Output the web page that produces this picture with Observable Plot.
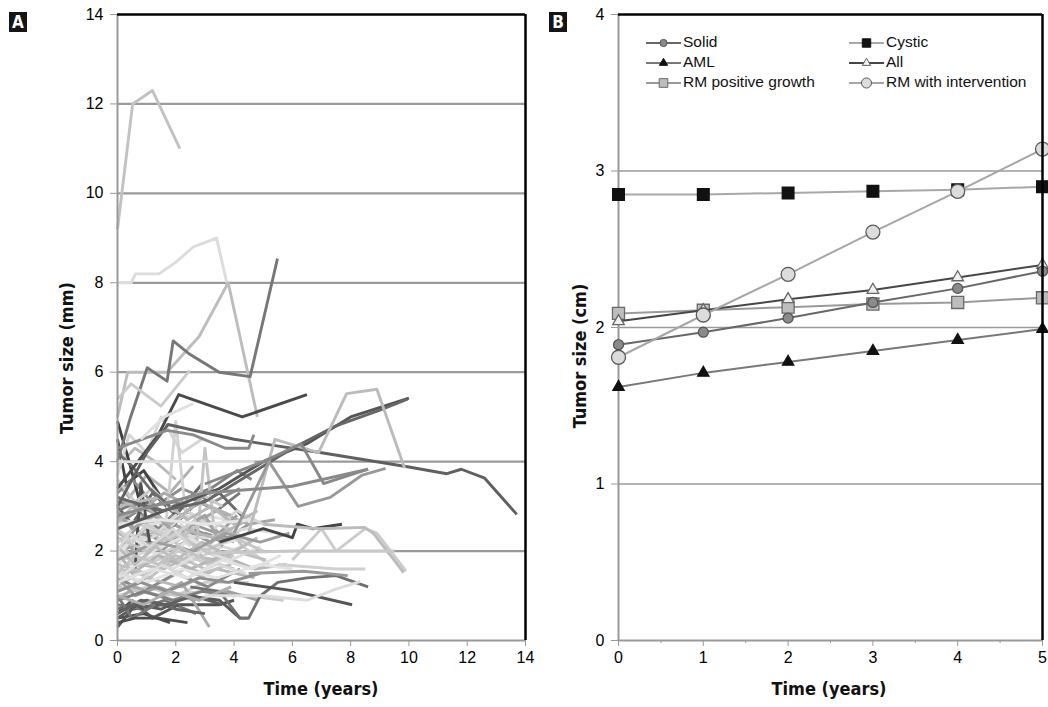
<!DOCTYPE html>
<html><head><meta charset="utf-8">
<script src="https://cdn.jsdelivr.net/npm/d3@7"></script>
<script src="https://cdn.jsdelivr.net/npm/@observablehq/plot@0.6"></script>
<style>
body{margin:0;background:#fff;}
#wrap{position:relative;width:1048px;height:707px;overflow:hidden;background:#fff;}
.panel{position:absolute;top:0;}
.tag{position:absolute;background:#151515;color:#fff;font:bold 17px "Liberation Sans Narrow","DejaVu Sans Condensed",sans-serif;width:18px;height:20px;line-height:21px;text-align:center;}
#overlay{position:absolute;left:0;top:0;pointer-events:none;}
</style></head><body><div id="wrap"></div>
<script>
// ---------------- DATA ----------------
// Panel A: individual tumour trajectories, flat [time, size, time, size, ...] (years, mm)
const clusterTrajectories = [
  [0,2.0, 1,2.2, 2,2.1, 3,2.4, 4,2.2],
  [0,1.5, 0.8,1.7, 1.6,1.6, 2.5,1.9, 3.4,1.8],
  [0,0.5, 0.9,0.6, 1.8,0.4],
  [0,0.3, 0.5,0.7, 1.5,0.8, 2.5,0.8, 3.5,0.8, 4.0,0.9],
  [0,1.0, 1,1.2, 2,1.0, 3,1.3, 4.5,1.3],
  [0,2.6, 0.7,2.9, 1.4,2.5, 2.2,3.0, 3.0,2.6],
  [0,3.0, 0.5,2.6, 1.2,3.3, 2.0,2.8, 2.9,3.5],
  [0,1.8, 1.1,2.0, 2.3,1.7, 3.6,2.1, 4.8,1.9],
  [0,2.3, 0.6,2.0, 1.3,2.7, 2.1,2.3, 2.8,2.8, 3.5,2.4],
  [0,1.2, 0.7,1.5, 1.5,1.3, 2.3,1.6, 3.0,1.4],
  [0,0.8, 0.8,0.7, 1.6,0.9, 2.7,0.6],
  [0,3.5, 0.4,3.2, 1.0,3.7, 1.8,3.3, 2.6,3.9],
  [0,1.9, 0.6,2.5, 1.5,2.0, 2.6,2.6, 3.8,2.3, 4.5,2.6],
  [0,2.7, 1.2,2.6, 2.6,2.8, 4.0,2.7],
  [0,1.4, 0.9,1.1, 2.0,1.5, 3.1,1.2, 4.2,1.6],
  [0,0.6, 0.5,0.9, 1.2,0.5, 2.1,0.8],
  [0,2.1, 0.8,1.8, 1.7,2.3, 2.7,1.9, 3.8,2.5, 4.6,2.2],
  [0,3.9, 0.6,4.3, 1.3,4.0, 2.0,3.6],
  [0,4.5, 0.3,3.5, 0.9,3.8, 1.5,3.2],
  [0,4.9, 0.4,4.0, 0.8,3.0, 1.4,2.8],
  [0,1.6, 1.3,1.9, 2.4,2.2, 3.3,1.9, 4.3,2.1, 5.2,1.7],
  [0,2.4, 0.9,2.3, 1.9,2.6, 3.2,2.2, 4.1,2.8],
  [0,1.1, 1.0,1.4, 2.2,1.2, 3.4,1.6, 4.7,1.4],
  [0,0.9, 0.6,1.2, 1.4,1.0, 2.2,1.3, 3.15,0.3],
  [0,2.9, 0.7,3.1, 1.6,2.9, 2.5,3.2, 3.4,2.9, 4.2,3.3],
  [0,2.2, 1.5,2.4, 3,2.3, 4.4,2.5, 5.5,2.4],
  [0,1.3, 0.5,1.6, 1.1,1.4, 1.9,1.8, 2.9,1.5, 3.9,1.7],
  [0,0.7, 1.0,0.9, 2.0,0.7, 3.0,0.6],
  [0,1.7, 0.8,2.1, 1.7,1.8, 2.5,2.3, 3.3,2.0],
  [0,3.3, 0.5,3.6, 1.3,3.0, 2.2,3.4, 3.3,3.1, 4.2,3.4],
  [0,2.5, 1.2,2.8, 2.3,2.5, 3.4,2.9, 4.5,2.6, 5.4,2.7],
  [0,1.9, 1.0,1.7, 2.1,2.0, 3.1,1.7, 4.0,1.9],
  [0,0.5, 0.7,0.8, 1.5,0.7, 2.4,1.0, 3.5,0.9, 4.2,0.5, 4.5,0.5],
  [0,1.0, 0.5,0.5, 1.3,0.8],
  [0,3.7, 0.4,4.6, 1.0,4.2, 1.5,5.0, 2.2,4.2, 2.9,4.5],
  [0,2.0, 0.5,1.5, 1.4,1.9, 2.5,1.6, 3.6,1.9, 4.7,1.6, 5.8,1.7],
  [0,1.5, 1.0,1.3, 2.2,1.6, 3.4,1.4, 4.9,1.7, 6.0,1.6],
  [0,2.8, 0.8,2.4, 1.7,2.2, 2.6,2.5, 3.6,2.2],
  [0,0.4, 0.6,0.5, 1.4,0.5, 2.4,0.4],
  [0,1.2, 1.5,1.0, 3.0,1.1, 4.5,1.0, 5.7,0.9],
  [1.0,3.1, 1.8,2.5, 2.6,3.0, 3.5,3.3, 4.4,2.7],
  [0,2.6, 0.5,3.0, 1.5,2.2, 2.3,2.4, 3.0,1.8, 4.0,1.6],
  [0,1.8, 0.4,2.2, 1.2,2.3, 2.0,2.8, 2.6,2.2],
  [0,3.1, 1.0,3.0, 2.0,3.1, 3.2,3.4, 4.1,3.8, 4.6,3.6],
  [0,2.0, 1.0,2.5, 2.0,2.2, 3.0,2.7, 3.8,2.5, 4.3,2.1],
  [0.6,1.6, 0.8,3.5, 1.1,2.2],
  [1.6,2.2, 2.0,4.9, 2.4,2.5],
  [2.7,2.0, 3.0,4.3, 3.3,2.6],
  [0,1.4, 0.6,1.0, 1.4,1.2, 2.6,0.9, 3.8,1.1, 4.8,0.9],
  [2.5,1.2, 3.5,1.1, 4.2,0.5, 4.5,0.5, 4.9,1.0, 5.5,1.3, 6.5,1.4, 7.5,1.45, 8.6,1.2],
  [0,2.2, 0.7,2.6, 1.6,2.4, 2.4,2.9, 3.3,2.5, 4.1,2.9, 5.0,2.6],
  [0,1.7, 1.0,1.5, 2.0,1.9, 3.0,1.6, 4.0,2.0, 5.1,1.8],
  [0,2.9, 0.5,2.5, 1.3,2.8, 2.0,2.4, 3.0,2.8, 3.6,2.1],
  [0,1.4, 0.9,1.8, 1.9,1.6, 2.9,2.0, 3.9,1.8, 4.9,2.1],
  [0,2.4, 1.1,2.1, 2.2,2.5, 3.3,2.3, 4.5,2.7],
  [0,1.1, 0.8,1.3, 1.7,1.1, 2.8,1.4, 3.8,1.3, 4.9,1.5],
  [0,3.6, 0.6,3.1, 1.2,3.4, 1.9,2.9, 2.8,3.3, 3.6,3.0],
  [0,1.9, 0.5,2.3, 1.2,2.0, 2.2,2.3, 3.2,2.1, 4.4,2.3],
  [0,2.7, 0.9,3.0, 1.8,2.6, 2.8,3.1, 3.9,2.8],
  [0,0.9, 0.9,1.1, 1.9,0.9, 2.9,1.1, 4.0,1.0],
  [0,1.6, 0.7,1.3, 1.5,1.7, 2.4,1.4, 3.4,1.7, 4.4,1.5],
  [0,2.3, 1.0,2.0, 2.0,2.4, 3.0,2.0, 4.0,2.3, 5.0,2.0],
  [0,3.2, 0.8,2.9, 1.6,3.3, 2.5,3.0, 3.3,3.4],
  [0,1.3, 1.2,1.6, 2.4,1.4, 3.6,1.8, 4.6,1.6, 5.6,1.9],
  [0,2.1, 0.6,1.7, 1.3,2.1, 2.0,1.8, 2.9,2.2, 3.8,1.9, 4.8,2.3],
  [0,2.5, 0.5,2.2, 1.0,2.6, 1.8,2.3, 2.7,2.7],
  [0,1.8, 1.3,2.2, 2.6,2.0, 3.7,2.4, 4.9,2.2, 5.9,2.4],
  [0,0.6, 0.8,0.9, 1.7,0.8, 2.6,1.0, 3.6,0.8],
  [0,2.0, 0.4,2.4, 1.1,2.1, 1.9,2.5, 2.5,2.1],
  [0,3.0, 1.4,3.2, 2.4,2.7, 3.2,3.0, 4.0,2.6, 4.8,2.9],
  [0,1.5, 0.6,1.9, 1.4,1.7, 2.1,2.1, 3.0,1.8],
  [0,4.2, 0.5,3.9, 1.1,3.4, 1.8,3.0],
  [0,2.6, 1.5,2.7, 3.0,2.6, 4.6,2.7],
  [0,1.0, 0.9,0.8, 1.8,1.1, 2.8,0.9, 3.9,1.2]
];
const prominentTrajectories = [
  [0,9.2, 0.52,12.0, 1.2,12.3, 2.14,11.0],
  [0,8.0, 0.47,8.0, 0.62,8.2, 1.42,8.2, 1.98,8.45, 2.6,8.8, 3.4,9.0, 3.75,8.0],
  [0,5.0, 0.35,6.0, 1.7,6.0, 2.8,6.8, 3.8,8.0, 4.8,5.0],
  [0,4.0, 0.45,5.0, 1.02,6.1, 1.7,5.8, 1.91,6.7, 2.48,6.4, 3.49,6.0, 4.55,5.9, 5.49,8.54],
  [0,3.4, 1.4,4.6, 2.1,5.5, 4.28,5.0, 6.5,5.5],
  [0,3.0, 1.0,4.2, 1.73,4.83, 4.0,4.5, 7.0,4.2, 10,3.88, 11.3,3.73, 11.8,3.83, 12.6,3.63, 13.7,2.82],
  [0,2.5, 2,3.0, 3.5,3.4, 5,4.0, 6.5,4.4, 8,5.0, 10,5.42],
  [0,3.2, 1.5,2.9, 3,3.1, 4.5,3.7, 6,4.3, 7.5,4.8, 9,5.15, 9.95,5.4],
  [4.5,2.4, 5.4,4.5, 6.9,4.2, 7.86,5.52, 8.9,5.62, 9.85,3.86],
  [4.0,2.4, 5.2,4.0, 6.2,3.0, 7.3,3.2, 8.4,3.7, 9.2,3.85],
  [3,3.5, 5,4.0, 6.3,4.4, 7.07,3.51, 8.6,3.83],
  [0,2.8, 3,3.3, 6,3.45, 8.6,3.83],
  [3.5,2.2, 5.0,2.5, 6.0,2.3, 6.17,2.6, 6.7,2.5, 7.7,2.6],
  [6,1.8, 7,2.5, 7.5,2.0, 8.5,2.5, 8.9,2.4, 9.9,1.55],
  [5,2.6, 6.9,2.5, 8.48,2.53, 8.79,2.39, 9.82,1.52],
  [4.0,1.3, 5.94,1.12, 8.05,0.8],
  [3.0,1.0, 5.0,1.0, 6.5,0.9, 7.5,1.15, 8.34,1.32],
  [3,1.95, 6,2.0, 9.5,2.0],
  [5.5,1.7, 7.5,1.6, 8.5,1.6],
  [4.5,1.5, 6.4,1.55, 7.9,1.45],
  [0,4.3, 1.7,4.7, 2.6,4.6, 3.7,4.3, 4.5,4.3, 4.68,4.6],
  [0,5.4, 0.47,5.74, 1.49,5.24, 2.48,6.04],
  [0.8,4.5, 1.6,5.0, 2.6,5.3],
  [0,4.0, 1.5,4.0, 3.0,4.0, 4.7,4.0]
];
const xTicksA = [0, 2, 4, 6, 8, 10, 12, 14];
const yTicksA = [0, 2, 4, 6, 8, 10, 12, 14];

// Panel B: mean growth curves (years, cm)
const years = [0, 1, 2, 3, 4, 5];
const seriesNames = ["Solid", "Cystic", "AML", "All", "RM positive growth", "RM with intervention"];
const solid = [1.89, 1.97, 2.06, 2.16, 2.25, 2.36];
const cystic = [2.85, 2.85, 2.86, 2.87, 2.88, 2.90];
const aml = [1.62, 1.71, 1.78, 1.85, 1.92, 1.99];
const allTumors = [2.04, 2.11, 2.18, 2.24, 2.32, 2.40];
const rmPositive = [2.09, 2.11, 2.13, 2.15, 2.16, 2.19];
const rmIntervention = [1.81, 2.08, 2.34, 2.61, 2.87, 3.14];
const xTicksB = [0, 1, 2, 3, 4, 5];
const xMinorB = [0.5, 1.5, 2.5, 3.5, 4.5];
const yTicksB = [0, 1, 2, 3, 4];

// ---------------- STYLE ----------------
const tickFont = '"Liberation Sans", Arial, Helvetica, sans-serif';
const boldFont = '"Liberation Sans Narrow", "DejaVu Sans Condensed", "Liberation Sans", sans-serif';
const clusterShades = ["#9a9a9a","#bdbdbd","#4a4a4a","#555","#cfcfcf","#8a8a8a","#666","#d8d8d8","#a8a8a8","#c5c5c5",
  "#777","#b0b0b0","#999","#e0e0e0","#888","#555","#c9c9c9","#bbb","#444","#3f3f3f",
  "#d0d0d0","#9c9c9c","#b8b8b8","#aaa","#7a7a7a","#dadada","#c0c0c0","#666","#e2e2e2","#8c8c8c",
  "#a5a5a5","#cdcdcd","#5a5a5a","#777","#d6d6d6","#b5b5b5","#e4e4e4","#909090","#4d4d4d","#c8c8c8",
  "#6a6a6a","#bdbdbd","#dcdcdc","#858585","#c2c2c2","#505050","#d2d2d2","#c4c4c4","#a0a0a0","#707070",
  "#d4d4d4","#c0c0c0","#a3a3a3","#dedede","#b7b7b7","#8f8f8f","#cacaca","#e3e3e3","#b2b2b2","#7f7f7f",
  "#d9d9d9","#c6c6c6","#a9a9a9","#e1e1e1","#bcbcbc","#cfcfcf","#9e9e9e","#606060","#d7d7d7","#b9b9b9",
  "#c3c3c3","#6e6e6e","#e5e5e5","#aeaeae"];
const prominentShades = ["#c2c2c2","#dcdcdc","#bdbdbd","#777","#4a4a4a","#606060","#555","#666",
  "#bbb","#999","#888","#8a8a8a","#444","#ccc","#bbb","#555","#ddd","#c8c8c8","#d0d0d0","#999",
  "#8a8a8a","#ccc","#e0e0e0","#dedede"];

const seriesStyle = {
  "Solid":                {line:"#686868", symbol:"circle",   fill:"#8a8a8a", stroke:"#555", r:5.0},
  "Cystic":               {line:"#a8a8a8", symbol:"square",   fill:"#111",    stroke:"#111", r:6.6},
  "AML":                  {line:"#787878", symbol:"triangle", fill:"#111",    stroke:"#111", r:4.2},
  "All":                  {line:"#474747", symbol:"triangle", fill:"#f0f0f0", stroke:"#666", r:4.3},
  "RM positive growth":   {line:"#9a9a9a", symbol:"square",   fill:"#bdbdbd", stroke:"#6a6a6a", r:6.8},
  "RM with intervention": {line:"#a6a6a6", symbol:"circle",   fill:"#dcdcdc", stroke:"#5a5a5a", r:7.0}
};
const drawOrder = ["Cystic", "RM positive growth", "All", "Solid", "AML", "RM with intervention"];

// ---------------- BUILD ----------------
function toPoints(list, shades, offset) {
  return list.flatMap((arr, k) => {
    const out = [];
    for (let i = 0; i < arr.length; i += 2) out.push({id: offset + k, t: arr[i], v: arr[i + 1], shade: shades[k % shades.length]});
    return out;
  });
}
const ptsA = [...toPoints(clusterTrajectories, clusterShades, 0), ...toPoints(prominentTrajectories, prominentShades, 1000)];

const wrap = document.getElementById("wrap");

const plotA = Plot.plot({
  width: 540, height: 707,
  marginLeft: 117, marginRight: 15, marginTop: 14, marginBottom: 67,
  x: {domain: [0, 14]}, y: {domain: [0, 14]},
  color: {type: "identity"},
  style: {fontFamily: tickFont, fontSize: "16px", color: "black", background: "transparent"},
  marks: [
    Plot.ruleY(yTicksA.filter(d => d > 0 && d < 14), {stroke: "#9a9a9a", strokeWidth: 2.2}),
    Plot.line(ptsA, {x: "t", y: "v", z: "id", stroke: "shade", strokeWidth: 2.9, strokeLinejoin: "round", strokeLinecap: "butt"}),
    Plot.ruleX([0], {stroke: "#999", strokeWidth: 2}),
    Plot.ruleY([0], {stroke: "#999", strokeWidth: 2}),
    Plot.ruleY([14], {stroke: "#000", strokeWidth: 2.5}),
    Plot.ruleX([14], {stroke: "#000", strokeWidth: 2.5}),
    Plot.axisY(yTicksA, {tickSize: 7, tickPadding: 7, stroke: "#999", fill: "black", label: null, fontSize: 16, tickFormat: d3.format("d")}),
    Plot.axisX(xTicksA, {tickSize: 6, tickPadding: 5, stroke: "#999", fill: "black", label: null, fontSize: 16, tickFormat: d3.format("d")})
  ]
});
plotA.classList.add("panel"); plotA.style.left = "0px";
wrap.appendChild(plotA);

const ptsB = seriesNames.flatMap(name => {
  const vals = {"Solid": solid, "Cystic": cystic, "AML": aml, "All": allTumors,
    "RM positive growth": rmPositive, "RM with intervention": rmIntervention}[name];
  return vals.map((v, i) => ({name, t: years[i], v}));
});

const seriesMarks = drawOrder.flatMap(name => {
  const s = seriesStyle[name];
  const data = ptsB.filter(d => d.name === name);
  return [
    Plot.line(data, {x: "t", y: "v", stroke: s.line, strokeWidth: 2}),
    Plot.dot(data, {x: "t", y: "v", symbol: s.symbol, r: s.r, fill: s.fill, stroke: s.stroke, strokeWidth: 1.3})
  ];
});

const plotB = Plot.plot({
  width: 508, height: 707,
  marginLeft: 78, marginRight: 6, marginTop: 14, marginBottom: 67,
  x: {domain: [0, 5]}, y: {domain: [0, 4]},
  style: {fontFamily: tickFont, fontSize: "16px", color: "black", background: "transparent"},
  marks: [
    Plot.ruleY(yTicksB.filter(d => d > 0 && d < 4), {stroke: "#9a9a9a", strokeWidth: 1.6}),
    Plot.ruleX([0], {stroke: "#999", strokeWidth: 2}),
    Plot.ruleY([0], {stroke: "#999", strokeWidth: 2}),
    ...seriesMarks,
    Plot.ruleY([4], {stroke: "#000", strokeWidth: 2.5}),
    Plot.ruleX([5], {stroke: "#000", strokeWidth: 2.5}),
    Plot.axisY(yTicksB, {tickSize: 7, tickPadding: 7, stroke: "#999", fill: "black", label: null, fontSize: 16, tickFormat: d3.format("d")}),
    Plot.axisX(xTicksB, {tickSize: 6, tickPadding: 5, stroke: "#999", fill: "black", label: null, fontSize: 16, tickFormat: d3.format("d")}),
    Plot.axisX(xMinorB, {tickSize: 3, stroke: "#999", tickFormat: () => "", label: null})
  ]
});
plotB.classList.add("panel"); plotB.style.left = "540px";
wrap.appendChild(plotB);

// Panel tags
[["A", 9], ["B", 549]].forEach(([t, x]) => {
  const d = document.createElement("div");
  d.className = "tag"; d.textContent = t; d.style.left = x + "px"; d.style.top = "12px";
  wrap.appendChild(d);
});

// Overlay: axis titles and legend
const ov = d3.select(wrap).append("svg").attr("id", "overlay").attr("width", 1048).attr("height", 707);
function boldText(x, y, txt, rot) {
  ov.append("text").attr("transform", `translate(${x},${y})` + (rot ? " rotate(-90)" : ""))
    .attr("text-anchor", "middle").attr("dominant-baseline", "middle")
    .attr("font-family", boldFont).attr("font-weight", "bold").attr("font-size", 18).attr("fill", "#111").text(txt);
}
boldText(68, 358, "Tumor size (mm)", true);
boldText(321, 690, "Time (years)", false);
boldText(581, 356, "Tumor size (cm)", true);
boldText(829, 690, "Time (years)", false);

const legendPos = {
  "Solid": [646, 43], "Cystic": [849, 43],
  "AML": [646, 63], "All": [849, 63],
  "RM positive growth": [646, 83], "RM with intervention": [849, 83]
};
const symMap = {circle: d3.symbolCircle, square: d3.symbolSquare, triangle: d3.symbolTriangle};
seriesNames.forEach(name => {
  const s = seriesStyle[name];
  const [x, y] = legendPos[name];
  ov.append("line").attr("x1", x).attr("x2", x + 35).attr("y1", y).attr("y2", y).attr("stroke", s.line).attr("stroke-width", 2);
  const rr = s.r * 0.72;
  ov.append("path").attr("d", d3.symbol(symMap[s.symbol], Math.PI * rr * rr)())
    .attr("transform", `translate(${x + 17.5},${y})`).attr("fill", s.fill).attr("stroke", s.stroke).attr("stroke-width", 1);
  ov.append("text").attr("x", x + 37).attr("y", y).attr("dominant-baseline", "middle")
    .attr("font-family", tickFont).attr("font-size", 15.5).attr("fill", "#111").text(name);
});
</script>
</body></html>
